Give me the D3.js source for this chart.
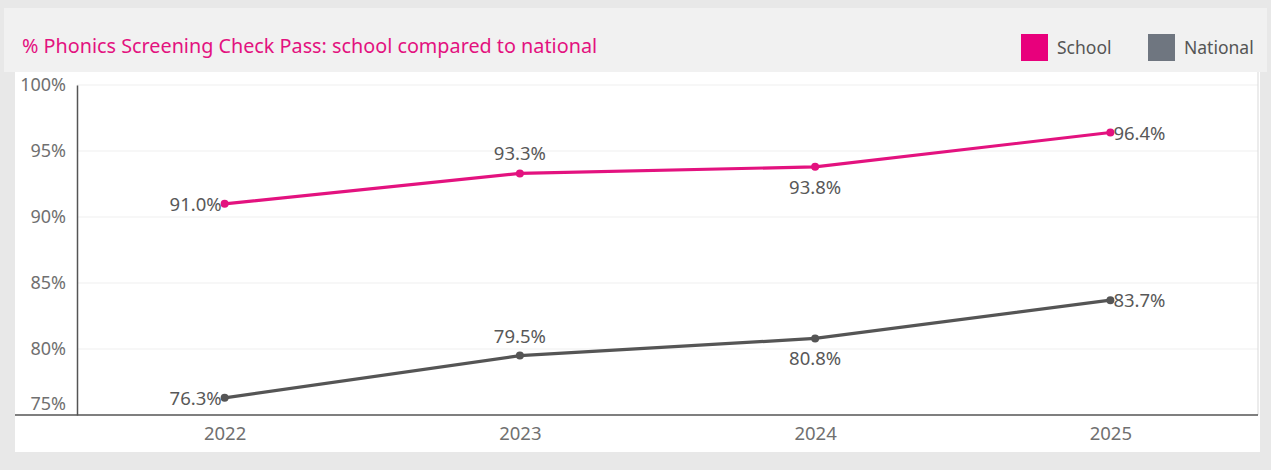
<!DOCTYPE html>
<html><head><meta charset="utf-8">
<script src="https://cdn.jsdelivr.net/npm/d3@7/dist/d3.min.js"></script>
<style>
html,body{margin:0;padding:0;background:#e8e8e8;}
svg{display:block;font-family:"Noto Sans","Open Sans",sans-serif;}
</style></head><body>
<svg id="c" width="1271" height="470"></svg>
<script>
const years = ["2022","2023","2024","2025"];
const schoolValues = [91.0, 93.3, 93.8, 96.4];
const nationalValues = [76.3, 79.5, 80.8, 83.7];
const yTicks = [75, 80, 85, 90, 95, 100];
const labelPos = ["left","above","below","right"];
const seriesNames = ["School","National"];

const svg = d3.select("#c");
const W = 1271, H = 470;
svg.append("rect").attr("x",4).attr("y",8).attr("width",W-8).attr("height",64).attr("fill","#f1f1f1");
svg.append("rect").attr("x",15).attr("y",72).attr("width",1245).attr("height",380).attr("fill","#ffffff");

const m = {left:77, right:1258, top:72, bottom:415};
const x = d3.scalePoint().domain(years).range([m.left, m.right]).padding(0.5);
const y = d3.scaleLinear().domain([75,100]).range([m.bottom, 85]);

svg.append("g").selectAll("line").data(yTicks.filter(t=>t>75)).join("line")
  .attr("x1",m.left).attr("x2",m.right).attr("y1",d=>y(d)).attr("y2",d=>y(d))
  .attr("stroke","#f0f0f0").attr("stroke-width",1.2);

svg.append("line").attr("x1",m.right).attr("x2",m.right).attr("y1",m.top).attr("y2",m.bottom)
  .attr("stroke","#d9d9d9");

const yAxis = svg.append("g").attr("transform",`translate(${m.left},0)`)
  .call(d3.axisLeft(y).tickValues(yTicks).tickSize(0).tickPadding(11).tickFormat(d=>d+"%"));
yAxis.select(".domain").attr("stroke","#555").attr("stroke-width",1.5);
yAxis.selectAll("text").attr("fill","#707070").attr("font-size",18).style("font-family",'"Noto Sans",sans-serif')
  .attr("dy","0.32em");
yAxis.selectAll(".tick").filter(d=>d===75).attr("transform",`translate(0,${y(75)-11})`);

const xAxis = svg.append("g").attr("transform",`translate(0,${m.bottom})`)
  .call(d3.axisBottom(x).tickSize(0).tickPadding(12));
xAxis.select(".domain").attr("stroke","#555").attr("stroke-width",1.5).attr("d",`M15,0H${m.right}`);
xAxis.selectAll("text").attr("fill","#707070").attr("font-size",18.5).style("font-family",'"Noto Sans",sans-serif');

const series = [
  {name:seriesNames[0], values:schoolValues, color:"#e3127f"},
  {name:seriesNames[1], values:nationalValues, color:"#555555"}
];
const line = d3.line().x((d,i)=>x(years[i])).y(d=>y(d));
series.forEach(s=>{
  svg.append("path").attr("d",line(s.values)).attr("fill","none")
    .attr("stroke",s.color).attr("stroke-width",3.2);
  svg.append("g").selectAll("circle").data(s.values).join("circle")
    .attr("cx",(d,i)=>x(years[i])).attr("cy",d=>y(d)).attr("r",4).attr("fill",s.color);
  svg.append("g").selectAll("text").data(s.values).join("text")
    .attr("x",(d,i)=>{const p=labelPos[i];return x(years[i]) + (p==="left"?-3:p==="right"?3:0);})
    .attr("y",(d,i)=>{const p=labelPos[i];return y(d) + (p==="above"?-13:p==="below"?27:7);})
    .attr("text-anchor",(d,i)=>{const p=labelPos[i];return p==="left"?"end":p==="right"?"start":"middle";})
    .attr("fill","#585858").attr("font-size",18.5)
    .text(d=>d.toFixed(1)+"%");
});

svg.append("text").attr("x",22).attr("y",53).attr("fill","#e3127f").attr("font-size",19.8)
  .text("% Phonics Screening Check Pass: school compared to national");

const legendX = [1021, 1148];
series.forEach((s,i)=>{
  svg.append("rect").attr("x",legendX[i]).attr("y",34).attr("width",27).attr("height",27)
    .attr("fill", i===0 ? "#e8007c" : "#6f7680");
  svg.append("text").attr("x",legendX[i]+36).attr("y",54).attr("fill","#555").attr("font-size",17.5)
    .text(s.name);
});
</script>
</body></html>
